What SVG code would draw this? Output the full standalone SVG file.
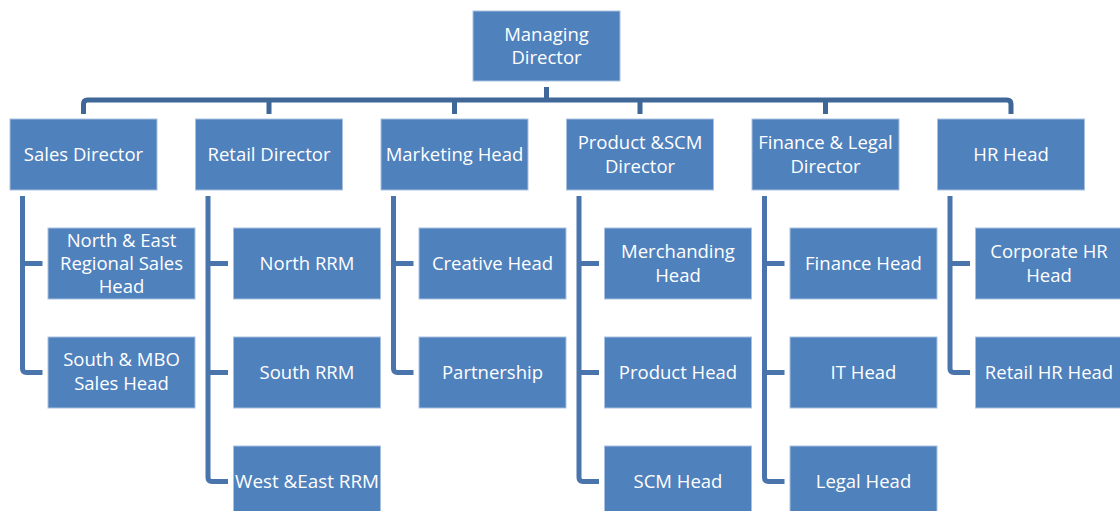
<svg xmlns="http://www.w3.org/2000/svg" width="1120" height="511" viewBox="0 0 1120 511">
<style>
.box{fill:#4F81BD;stroke:#A9C1E0;stroke-width:1}
.t{font-family:"Open Sans","Liberation Sans",sans-serif;font-size:18.5px;fill:#FFFFFF;text-anchor:middle}
.bus{fill:none;stroke:#3F6797;stroke-width:5}
.sub{fill:none;stroke:#4A74AC;stroke-width:5}
</style>
<rect width="1120" height="511" fill="#FFFFFF"/>
<g id="connectors">
<path class="bus" d="M546.5,87 V100 M83.5,114 V104 Q83.5,100 87.5,100 H1007 Q1011,100 1011,104 V114 M269,100 V114 M454.5,100 V114 M640,100 V114 M825.5,100 V114"/>
<path class="sub" d="M22.5,196 V368.5 Q22.5,372.5 26.5,372.5 H42.5 M22.5,263.5 H42.5"/>
<path class="sub" d="M208,196 V477.5 Q208,481.5 212,481.5 H228 M208,263.5 H228 M208,372.5 H228"/>
<path class="sub" d="M393.5,196 V368.5 Q393.5,372.5 397.5,372.5 H413.5 M393.5,263.5 H413.5"/>
<path class="sub" d="M579,196 V477.5 Q579,481.5 583,481.5 H599 M579,263.5 H599 M579,372.5 H599"/>
<path class="sub" d="M764.5,196 V477.5 Q764.5,481.5 768.5,481.5 H784.5 M764.5,263.5 H784.5 M764.5,372.5 H784.5"/>
<path class="sub" d="M950,196 V368.5 Q950,372.5 954,372.5 H970 M950,263.5 H970"/>
</g>
<g id="managing-director"><rect class="box" x="473" y="11" width="147" height="70"/><text class="t" x="546.5" y="41">Managing</text><text class="t" x="546.5" y="64">Director</text></g>
<g id="sales-director"><rect class="box" x="10" y="119" width="147" height="71"/><text class="t" x="83.5" y="161">Sales Director</text></g>
<g id="retail-director"><rect class="box" x="195.5" y="119" width="147" height="71"/><text class="t" x="269" y="161">Retail Director</text></g>
<g id="marketing-head"><rect class="box" x="381" y="119" width="147" height="71"/><text class="t" x="454.5" y="161">Marketing Head</text></g>
<g id="product-scm-director"><rect class="box" x="566.5" y="119" width="147" height="71"/><text class="t" x="640" y="149">Product &amp;SCM</text><text class="t" x="640" y="173">Director</text></g>
<g id="finance-legal-director"><rect class="box" x="752" y="119" width="147" height="71"/><text class="t" x="825.5" y="149">Finance &amp; Legal</text><text class="t" x="825.5" y="173">Director</text></g>
<g id="hr-head"><rect class="box" x="937.5" y="119" width="147" height="71"/><text class="t" x="1011" y="161">HR Head</text></g>
<g id="north-east-sales-head"><rect class="box" x="48" y="228" width="147" height="71"/><text class="t" x="121.5" y="247">North &amp; East</text><text class="t" x="121.5" y="270">Regional Sales</text><text class="t" x="121.5" y="293">Head</text></g>
<g id="south-mbo-sales-head"><rect class="box" x="48" y="337" width="147" height="71"/><text class="t" x="121.5" y="366">South &amp; MBO</text><text class="t" x="121.5" y="390">Sales Head</text></g>
<g id="north-rrm"><rect class="box" x="233.5" y="228" width="147" height="71"/><text class="t" x="307" y="270">North RRM</text></g>
<g id="south-rrm"><rect class="box" x="233.5" y="337" width="147" height="71"/><text class="t" x="307" y="379">South RRM</text></g>
<g id="west-east-rrm"><rect class="box" x="233.5" y="446" width="147" height="71"/><text class="t" x="307" y="488" textLength="144" lengthAdjust="spacingAndGlyphs">West &amp;East RRM</text></g>
<g id="creative-head"><rect class="box" x="419" y="228" width="147" height="71"/><text class="t" x="492.5" y="270">Creative Head</text></g>
<g id="partnership"><rect class="box" x="419" y="337" width="147" height="71"/><text class="t" x="492.5" y="379">Partnership</text></g>
<g id="merchanding-head"><rect class="box" x="604.5" y="228" width="147" height="71"/><text class="t" x="678" y="258">Merchanding</text><text class="t" x="678" y="282">Head</text></g>
<g id="product-head"><rect class="box" x="604.5" y="337" width="147" height="71"/><text class="t" x="678" y="379">Product Head</text></g>
<g id="scm-head"><rect class="box" x="604.5" y="446" width="147" height="71"/><text class="t" x="678" y="488">SCM Head</text></g>
<g id="finance-head"><rect class="box" x="790" y="228" width="147" height="71"/><text class="t" x="863.5" y="270">Finance Head</text></g>
<g id="it-head"><rect class="box" x="790" y="337" width="147" height="71"/><text class="t" x="863.5" y="379">IT Head</text></g>
<g id="legal-head"><rect class="box" x="790" y="446" width="147" height="71"/><text class="t" x="863.5" y="488">Legal Head</text></g>
<g id="corporate-hr-head"><rect class="box" x="975.5" y="228" width="147" height="71"/><text class="t" x="1049" y="258">Corporate HR</text><text class="t" x="1049" y="282">Head</text></g>
<g id="retail-hr-head"><rect class="box" x="975.5" y="337" width="147" height="71"/><text class="t" x="1049" y="379">Retail HR Head</text></g>
</svg>
